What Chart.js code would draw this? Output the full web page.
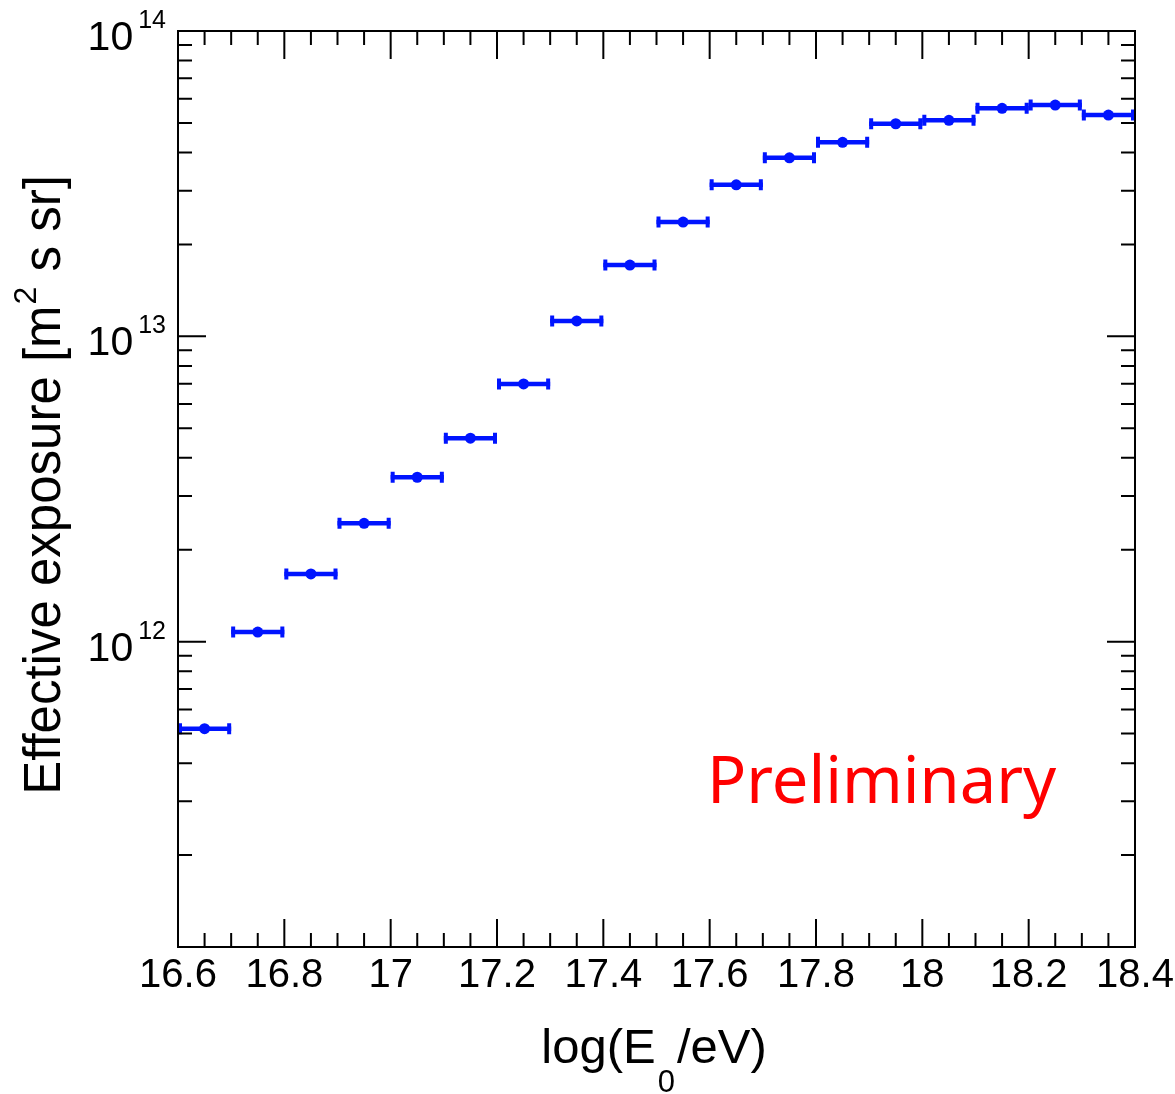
<!DOCTYPE html>
<html>
<head>
<meta charset="utf-8">
<title>Effective exposure</title>
<script src="https://cdn.jsdelivr.net/npm/chart.js@4.4.1/dist/chart.umd.min.js"></script>
<style>
    html, body { margin: 0; padding: 0; background: #ffffff; }
    #wrap { width: 1175px; height: 1094px; }
</style>
</head>
<body>
<div id="wrap"><canvas id="exposureChart" width="1175" height="1094"></canvas></div>
<script>
// Energy bins: log10(E0/eV) centres and half widths
const binCenters = [16.65, 16.75, 16.85, 16.95, 17.05, 17.15, 17.25, 17.35, 17.45,
                    17.55, 17.65, 17.75, 17.85, 17.95, 18.05, 18.15, 18.25, 18.35];
const binHalfWidth = [0.05, 0.05, 0.05, 0.05, 0.05, 0.05, 0.05, 0.05, 0.05,
                      0.05, 0.05, 0.05, 0.05, 0.05, 0.05, 0.05, 0.05, 0.05];

// Effective exposure per bin [m^2 s sr]
const exposure = [5.19e11, 1.075e12, 1.666e12, 2.442e12, 3.455e12, 4.638e12, 6.987e12, 1.123e13, 1.711e13,
                  2.367e13, 3.135e13, 3.844e13, 4.318e13, 4.969e13, 5.098e13, 5.581e13, 5.722e13, 5.305e13];

// Axis ticks
const xTickLabels = ['16.6', '16.8', '17', '17.2', '17.4', '17.6', '17.8', '18', '18.2', '18.4'];
const yTickDecades = [12, 13, 14];

const BLUE = '#0014ff';
const FONT = '"Liberation Sans", Arial, Helvetica, sans-serif';

// Horizontal error bars with end caps
const errorBars = {
    id: 'errorBars',
    beforeDatasetsDraw(chart) {
        const { ctx, scales: { x, y } } = chart;
        ctx.save();
        ctx.strokeStyle = BLUE;
        binCenters.forEach((c, i) => {
            const x0 = x.getPixelForValue(c - binHalfWidth[i]);
            const x1 = x.getPixelForValue(c + binHalfWidth[i]);
            const py = y.getPixelForValue(exposure[i]);
            ctx.lineWidth = 4.5;
            ctx.beginPath();
            ctx.moveTo(x0, py);
            ctx.lineTo(x1, py);
            ctx.stroke();
            ctx.lineWidth = 4;
            ctx.beginPath();
            ctx.moveTo(x0 + 2, py - 5.5);
            ctx.lineTo(x0 + 2, py + 5.5);
            ctx.moveTo(x1 - 2, py - 5.5);
            ctx.lineTo(x1 - 2, py + 5.5);
            ctx.stroke();
        });
        ctx.restore();
    }
};

// Frame, inward ticks on all four sides, tick labels and titles
const frameAndLabels = {
    id: 'frameAndLabels',
    afterDraw(chart) {
        const { ctx, chartArea: a, scales: { x, y } } = chart;
        const majorLen = 28, minorLen = 14;
        ctx.save();
        ctx.strokeStyle = '#000';
        ctx.fillStyle = '#000';
        ctx.lineWidth = 2;
        ctx.strokeRect(a.left, a.top, a.right - a.left, a.bottom - a.top);

        ctx.beginPath();
        // x ticks: every 0.05, major every 0.2
        for (let k = 0; k <= 36; k++) {
            const v = 16.6 + k * 0.05;
            const px = x.getPixelForValue(v);
            const len = (k % 4 === 0) ? majorLen : minorLen;
            ctx.moveTo(px, a.bottom); ctx.lineTo(px, a.bottom - len);
            ctx.moveTo(px, a.top); ctx.lineTo(px, a.top + len);
        }
        // y ticks: log decades with 2..9 minors
        for (let d = 11; d <= 13; d++) {
            for (let m = 1; m <= 9; m++) {
                const v = m * Math.pow(10, d);
                if (v < y.min || v > y.max) continue;
                const py = y.getPixelForValue(v);
                const len = (m === 1) ? majorLen : minorLen;
                ctx.moveTo(a.left, py); ctx.lineTo(a.left + len, py);
                ctx.moveTo(a.right, py); ctx.lineTo(a.right - len, py);
            }
        }
        ctx.stroke();

        // x tick labels
        ctx.font = '40px ' + FONT;
        ctx.textAlign = 'center';
        ctx.textBaseline = 'alphabetic';
        xTickLabels.forEach(lbl => {
            ctx.fillText(lbl, x.getPixelForValue(Number(lbl)), a.bottom + 40);
        });

        // y tick labels as 10^n
        yTickDecades.forEach(d => {
            const py = y.getPixelForValue(Math.pow(10, d));
            ctx.font = '25px ' + FONT;
            ctx.textAlign = 'right';
            const supW = ctx.measureText(String(d)).width;
            ctx.fillText(String(d), a.left - 12, py - 3);
            ctx.font = '41px ' + FONT;
            ctx.fillText('10', a.left - 12 - supW - 5, py + 19);
        });

        // x axis title: log(E_0/eV)
        const titleSize = 49, subSize = 31;
        ctx.textAlign = 'left';
        ctx.font = titleSize + 'px ' + FONT;
        const partA = 'log(E', partC = '/eV)';
        const wA = ctx.measureText(partA).width;
        const wC = ctx.measureText(partC).width;
        ctx.font = subSize + 'px ' + FONT;
        const wB = ctx.measureText('0').width;
        const total = wA + wB + 4 + wC;
        let tx = 654 - total / 2;
        const tBase = 1063;
        ctx.font = titleSize + 'px ' + FONT;
        ctx.fillText(partA, tx, tBase);
        ctx.font = subSize + 'px ' + FONT;
        ctx.fillText('0', tx + wA + 2, tBase + 29);
        ctx.font = titleSize + 'px ' + FONT;
        ctx.fillText(partC, tx + wA + wB + 4, tBase);

        // y axis title, rotated
        const ySize = 51, ySub = 32;
        ctx.save();
        ctx.translate(60, (a.top + a.bottom) / 2 - 4);
        ctx.rotate(-Math.PI / 2);
        const yA = 'Effective exposure [m', yB = '2', yC = ' s sr]';
        ctx.font = ySize + 'px ' + FONT;
        const ya = ctx.measureText(yA).width, yc = ctx.measureText(yC).width;
        ctx.font = ySub + 'px ' + FONT;
        const yb = ctx.measureText(yB).width;
        let sx = -(ya + yb + 2 + yc) / 2;
        ctx.font = ySize + 'px ' + FONT;
        ctx.fillText(yA, sx, 0);
        ctx.font = ySub + 'px ' + FONT;
        ctx.fillText(yB, sx + ya + 1, -24);
        ctx.font = ySize + 'px ' + FONT;
        ctx.fillText(yC, sx + ya + yb + 2, 0);
        ctx.restore();

        // Preliminary stamp
        ctx.fillStyle = '#ff0000';
        ctx.font = '65px "Noto Sans", ' + FONT;
        ctx.textAlign = 'left';
        ctx.fillText('Preliminary', 707, 803);
        ctx.restore();
    }
};

new Chart(document.getElementById('exposureChart'), {
    type: 'scatter',
    data: {
        datasets: [{
            label: 'Effective exposure',
            data: binCenters.map((c, i) => ({ x: c, y: exposure[i] })),
            backgroundColor: BLUE,
            borderColor: BLUE,
            pointRadius: 5.5,
            pointBorderWidth: 0
        }]
    },
    options: {
        responsive: false,
        devicePixelRatio: 1,
        animation: false,
        layout: { padding: { left: 178, top: 31, right: 40, bottom: 147 } },
        plugins: { legend: { display: false }, tooltip: { enabled: false } },
        scales: {
            x: { type: 'linear', min: 16.6, max: 18.4, display: false },
            y: { type: 'logarithmic', min: 1e11, max: 1e14, display: false }
        }
    },
    plugins: [errorBars, frameAndLabels]
});
</script>
</body>
</html>
